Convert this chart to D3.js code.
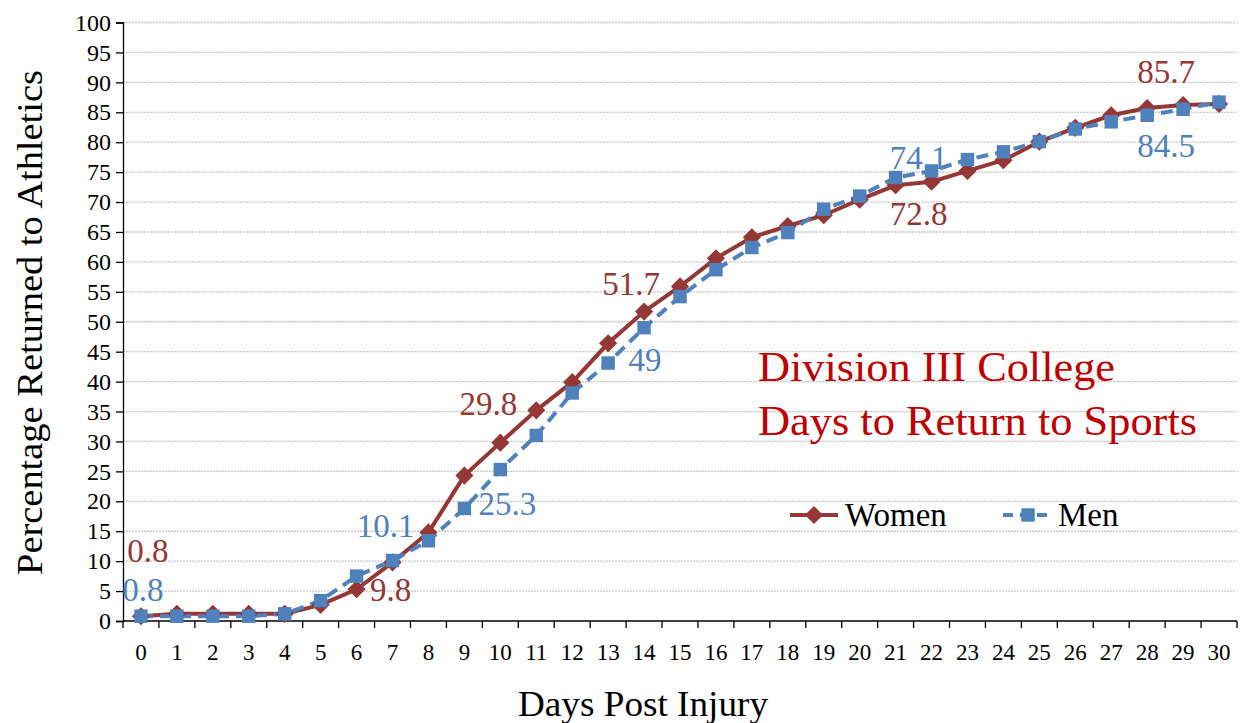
<!DOCTYPE html>
<html>
<head>
<meta charset="utf-8">
<script src="https://cdn.jsdelivr.net/npm/d3@7"></script>
<style>
  body { margin: 0; background: #fff; }
  svg { font-family: "Liberation Serif", "Times New Roman", serif; }
</style>
</head>
<body>
<svg width="1241" height="723"></svg>
<script>
// days post injury
var days = d3.range(0, 31);
// percentage returned to athletics
var women = [0.8, 1.2, 1.2, 1.2, 1.2, 2.7, 5.3, 9.8, 14.8, 24.3, 29.8, 35.2, 39.9, 46.4, 51.7, 55.9,
             60.6, 64.1, 66.0, 67.8, 70.4, 72.8, 73.4, 75.2, 77.0, 80.1, 82.4, 84.5, 85.7, 86.2, 86.4];
var men   = [0.8, 0.8, 0.8, 0.8, 1.2, 3.4, 7.5, 10.1, 13.4, 18.8, 25.3, 31.0, 38.1, 43.1, 49.0, 54.2,
             58.7, 62.4, 64.9, 68.8, 71.0, 74.1, 75.2, 77.1, 78.4, 80.1, 82.2, 83.4, 84.5, 85.5, 86.7];
var yTicks = d3.range(0, 101, 5);
// which points carry a value label
var womenLabelDays = [0, 7, 10, 14, 21, 28];
var menLabelDays = [0, 7, 10, 14, 21, 28];

var redC = "#953735", blueC = "#4F81BD";

var svg = d3.select("svg");
var pLeft = 123, pRight = 1237, pTop = 22.5, pBottom = 621;

var x = d3.scaleBand().domain(days).range([pLeft, pRight]);
var y = d3.scaleLinear().domain([0, 100]).range([pBottom, pTop]);
var cx = function(d) { return x(d) + x.bandwidth() / 2; };

// gridlines
svg.append("g").selectAll("line")
  .data(yTicks.filter(function(d) { return d > 0; }))
  .enter().append("line")
  .attr("x1", pLeft).attr("x2", pRight)
  .attr("y1", function(d) { return y(d); })
  .attr("y2", function(d) { return y(d); })
  .attr("stroke", "#c8c8c8").attr("stroke-width", 1.3)
  .attr("stroke-dasharray", "2,1");

// y axis
var yAxis = d3.axisLeft(y).tickValues(yTicks).tickSize(7).tickPadding(5);
var gy = svg.append("g").attr("transform", "translate(" + pLeft + ",0)").call(yAxis);
gy.select(".domain").attr("stroke", "#000").attr("stroke-width", 1.3);
gy.selectAll(".tick line").attr("stroke", "#000").attr("stroke-width", 1.3);
gy.selectAll("text").attr("font-size", 24).attr("fill", "#000")
  .style("font-family", "Liberation Serif");

// x axis: ticks between categories
var gx = svg.append("g").attr("transform", "translate(0," + pBottom + ")");
gx.append("line").attr("x1", pLeft).attr("x2", pRight)
  .attr("stroke", "#000").attr("stroke-width", 1.3);
gx.selectAll(".tk").data(days.concat([31])).enter().append("line")
  .attr("x1", function(d, i) { return pLeft + i * x.step(); })
  .attr("x2", function(d, i) { return pLeft + i * x.step(); })
  .attr("y1", 0).attr("y2", 7)
  .attr("stroke", "#000").attr("stroke-width", 1.3);
gx.selectAll("text").data(days).enter().append("text")
  .attr("x", cx).attr("y", 39)
  .attr("text-anchor", "middle")
  .attr("font-size", 23)
  .text(function(d) { return d; });

// axis titles
svg.append("text").attr("x", 518).attr("y", 716)
  .attr("font-size", 35).attr("textLength", 250).attr("lengthAdjust", "spacingAndGlyphs")
  .text("Days Post Injury");
svg.append("text")
  .attr("transform", "translate(42,575) rotate(-90)")
  .attr("font-size", 35).attr("textLength", 505).attr("lengthAdjust", "spacingAndGlyphs")
  .text("Percentage Returned to Athletics");

// lines
var line = d3.line().x(function(d, i) { return cx(days[i]); }).y(function(d) { return y(d); });

svg.append("path").datum(women).attr("d", line)
  .attr("fill", "none").attr("stroke", redC).attr("stroke-width", 4);
svg.append("path").datum(men).attr("d", line)
  .attr("fill", "none").attr("stroke", blueC).attr("stroke-width", 4)
  .attr("stroke-dasharray", "12,7");

var diamond = d3.symbol().type(d3.symbolDiamond2).size(210);
var square = d3.symbol().type(d3.symbolSquare2).size(230);

svg.append("g").selectAll("path").data(women).enter().append("path")
  .attr("d", diamond)
  .attr("transform", function(d, i) { return "translate(" + cx(days[i]) + "," + y(d) + ")"; })
  .attr("fill", redC);
svg.append("g").selectAll("path").data(men).enter().append("path")
  .attr("d", square)
  .attr("transform", function(d, i) { return "translate(" + cx(days[i]) + "," + y(d) + ")"; })
  .attr("fill", blueC);

// value labels (offsets of label centre from point)
var womenOff = {0: [7, -66], 7: [-2, 27], 10: [-12, -40], 14: [-13, -29], 21: [23, 28], 28: [19, -37]};
var menOff = {0: [2, -27], 7: [-7, -36], 10: [7, 33], 14: [1, 31], 21: [23, -21], 28: [19, 30]};

svg.append("g").selectAll("text").data(womenLabelDays).enter().append("text")
  .attr("x", function(d) { return cx(d) + womenOff[d][0]; })
  .attr("y", function(d) { return y(women[d]) + womenOff[d][1] + 12; })
  .attr("text-anchor", "middle").attr("font-size", 33).attr("fill", redC)
  .text(function(d) { return women[d]; });
svg.append("g").selectAll("text").data(menLabelDays).enter().append("text")
  .attr("x", function(d) { return cx(d) + menOff[d][0]; })
  .attr("y", function(d) { return y(men[d]) + menOff[d][1] + 12; })
  .attr("text-anchor", "middle").attr("font-size", 33).attr("fill", blueC)
  .text(function(d) { return men[d]; });

// chart title inside plot
svg.append("text").attr("x", 758).attr("y", 381).attr("font-size", 42).attr("fill", "#C00000")
  .attr("textLength", 357).attr("lengthAdjust", "spacingAndGlyphs")
  .text("Division III College");
svg.append("text").attr("x", 758).attr("y", 435).attr("font-size", 42).attr("fill", "#C00000")
  .attr("textLength", 439).attr("lengthAdjust", "spacingAndGlyphs")
  .text("Days to Return to Sports");

// legend
var lg = svg.append("g");
lg.append("line").attr("x1", 790).attr("x2", 838).attr("y1", 515).attr("y2", 515)
  .attr("stroke", redC).attr("stroke-width", 4);
lg.append("path").attr("d", diamond).attr("transform", "translate(814,515)").attr("fill", redC);
lg.append("text").attr("x", 845).attr("y", 526).attr("font-size", 33).text("Women");
lg.append("line").attr("x1", 1003).attr("x2", 1052).attr("y1", 515).attr("y2", 515)
  .attr("stroke", blueC).attr("stroke-width", 4).attr("stroke-dasharray", "10,7")
  .attr("stroke-dashoffset", 0);
lg.append("path").attr("d", square).attr("transform", "translate(1028,515)").attr("fill", blueC);
lg.append("text").attr("x", 1058).attr("y", 526).attr("font-size", 33).text("Men");
</script>
</body>
</html>
